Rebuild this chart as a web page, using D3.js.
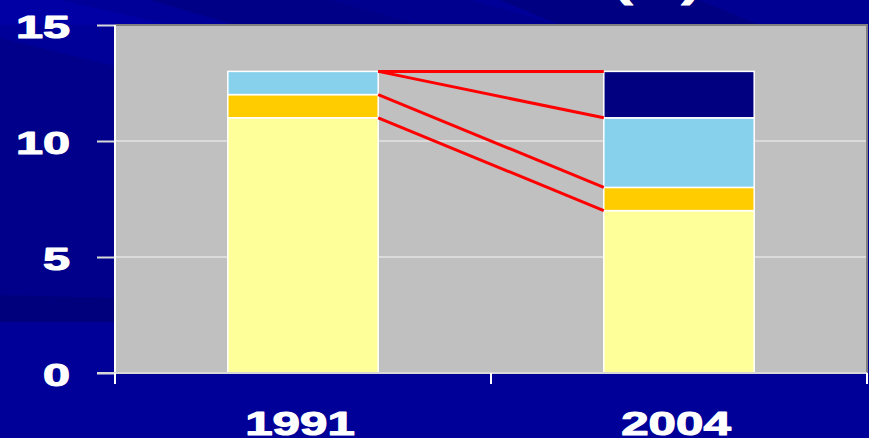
<!DOCTYPE html>
<html>
<head>
<meta charset="utf-8">
<script src="https://cdn.jsdelivr.net/npm/d3@7/dist/d3.min.js"></script>
<style>
  html, body { margin: 0; padding: 0; background: #000099; }
  svg { display: block; }
  text { font-family: "Liberation Sans", Arial, sans-serif; font-weight: bold; fill: #ffffff; }
  .heavy { stroke: #ffffff; stroke-width: 1.1; stroke-linejoin: round; }
</style>
</head>
<body>
<svg id="chart" width="869" height="438"></svg>
<script>
// Categories and stacked layer values (%)
const years = ["1991", "2004"];
const level1 = [11, 7];
const level2 = [1, 1];
const level3 = [1, 3];
const level4 = [0, 2];
const yTicks = [0, 5, 10, 15];

const layerKeys = ["level1", "level2", "level3", "level4"];
const layerColors = ["#FFFF99", "#FFCC00", "#87D1EC", "#000080"];

const rows = years.map((y, i) => ({
  year: y, level1: level1[i], level2: level2[i], level3: level3[i], level4: level4[i]
}));

const W = 869, H = 438;
const plot = { left: 115, right: 867, top: 25, bottom: 373 };

const svg = d3.select("#chart");

// Slide-style backdrop: deep blue with darker diagonal sweeps
const bg = svg.append("g");
bg.append("rect").attr("width", W).attr("height", H).attr("fill", "#000099");
const sweeps = [
  { pts: [[0,38],[115,66],[115,300],[0,295]], fill: "#00008A" },
  { pts: [[0,295],[115,298],[115,322],[0,322]], fill: "#00007C" },
  { pts: [[0,0],[60,0],[170,25],[0,25]], fill: "#0000A4" },
  { pts: [[150,0],[330,0],[420,25],[235,25]], fill: "#000086" },
  { pts: [[330,0],[470,0],[560,25],[420,25]], fill: "#00008E" },
  { pts: [[500,0],[700,0],[760,25],[560,25]], fill: "#000082" },
  { pts: [[700,0],[869,0],[869,25],[760,25]], fill: "#000093" }
];
bg.selectAll("polygon").data(sweeps).join("polygon")
  .attr("points", d => d.pts.map(p => p.join(",")).join(" "))
  .attr("fill", d => d.fill);

// Title tail, running off the top edge
svg.append("text")
  .attr("class", "heavy")
  .attr("transform", "translate(657,-3) scale(1.45,1)")
  .attr("text-anchor", "middle")
  .attr("font-size", 38)
  .text("(%)");

const x = d3.scaleBand().domain(years).range([plot.left, plot.right]).paddingInner(0.6).paddingOuter(0.3);
const y = d3.scaleLinear().domain([0, 15]).range([plot.bottom, plot.top]);

// Plot area
svg.append("rect")
  .attr("x", plot.left).attr("y", plot.top)
  .attr("width", plot.right - plot.left).attr("height", plot.bottom - plot.top)
  .attr("fill", "#C0C0C0");
// Darker frame on top and right
svg.append("line").attr("x1", plot.left).attr("x2", plot.right + 1)
  .attr("y1", plot.top).attr("y2", plot.top)
  .attr("stroke", "#808080").attr("stroke-width", 2);
svg.append("line").attr("x1", plot.right).attr("x2", plot.right)
  .attr("y1", plot.top).attr("y2", plot.bottom)
  .attr("stroke", "#808080").attr("stroke-width", 2);

// Gridlines
svg.append("g").selectAll("line").data(yTicks.filter(t => t > 0 && t < 15)).join("line")
  .attr("x1", plot.left).attr("x2", plot.right - 1)
  .attr("y1", d => y(d)).attr("y2", d => y(d))
  .attr("stroke", "#E4E4E4").attr("stroke-width", 1.5);

// Stacked bars
const stack = d3.stack().keys(layerKeys)(rows);
const barG = svg.append("g");
stack.forEach((layer, li) => {
  barG.append("g").attr("fill", layerColors[li])
    .selectAll("rect").data(layer.filter(d => d[1] - d[0] > 0)).join("rect")
    .attr("x", d => x(d.data.year))
    .attr("width", x.bandwidth())
    .attr("y", d => y(d[1]))
    .attr("height", d => y(d[0]) - y(d[1]))
    .attr("stroke", "#FFFFFF").attr("stroke-width", 1.5);
});

// Connectors between the layer tops of the two bars
const connG = svg.append("g");
stack.forEach(layer => {
  const a = layer[0], b = layer[1];
  connG.append("line")
    .attr("x1", x(years[0]) + x.bandwidth()).attr("y1", y(a[1]))
    .attr("x2", x(years[1])).attr("y2", y(b[1]))
    .attr("stroke", "#FF0000").attr("stroke-width", 3);
});

// Y axis
const yAxis = svg.append("g").attr("transform", `translate(${plot.left},0)`)
  .call(d3.axisLeft(y).tickValues(yTicks).tickSize(18).tickPadding(0));
yAxis.select(".domain").remove();
yAxis.selectAll(".tick line").attr("stroke", "#D8D8D8").attr("stroke-width", 2);
yAxis.selectAll(".tick text")
  .attr("class", "heavy")
  .attr("x", null).attr("dy", null)
  .attr("text-anchor", "end")
  .attr("transform", "translate(-45,12) scale(1.52,1)")
  .attr("font-size", 32).attr("font-family", null).attr("fill", null);

// Axis lines
svg.append("line").attr("x1", plot.left).attr("x2", plot.left)
  .attr("y1", plot.top).attr("y2", plot.bottom + 11)
  .attr("stroke", "#FFFFFF").attr("stroke-width", 2);
svg.append("line").attr("x1", plot.left - 18).attr("x2", plot.right)
  .attr("y1", plot.bottom).attr("y2", plot.bottom)
  .attr("stroke", "#D8D8D8").attr("stroke-width", 2);

// X axis ticks at category boundaries
const xb = d3.scaleLinear().domain([0, years.length]).range([plot.left, plot.right]);
svg.append("g").selectAll("line").data(d3.range(years.length + 1)).join("line")
  .attr("x1", d => xb(d)).attr("x2", d => xb(d))
  .attr("y1", plot.bottom).attr("y2", plot.bottom + 11)
  .attr("stroke", "#FFFFFF").attr("stroke-width", 2);

// Category labels
svg.append("g").selectAll("text").data(years).join("text")
  .attr("class", "heavy")
  .attr("transform", d => `translate(${x(d) + x.bandwidth() / 2 - 3},435) scale(1.45,1)`)
  .attr("text-anchor", "middle")
  .attr("font-size", 34)
  .text(d => d);
</script>
</body>
</html>
